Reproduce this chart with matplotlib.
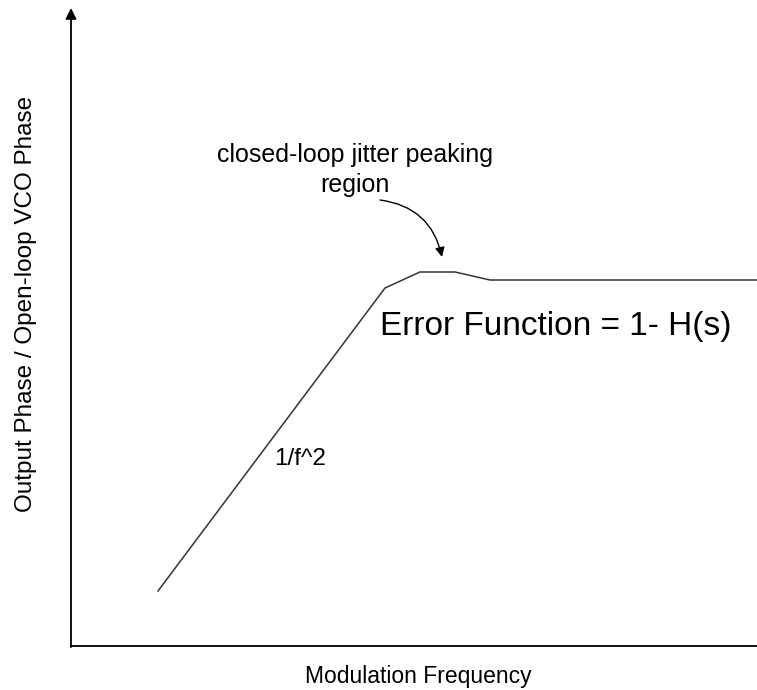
import matplotlib
matplotlib.use("Agg")
from matplotlib import pyplot as plt

# Response curve, in picture coordinates (x right, y down)
freq = [158, 385, 420, 455, 490, 757]
phase = [591, 288, 272, 272, 280, 280]

ylabel = 'Output Phase / Open-loop VCO Phase'
xlabel = 'Modulation Frequency'
note = 'closed-loop jitter peaking\nregion'
formula = 'Error Function = 1- H(s)'
slope = '1/f^2'

plt.rcParams['font.family'] = ['Liberation Sans', 'DejaVu Sans']

fig = plt.figure(figsize=(7.57, 6.90), dpi=100)
ax = fig.add_axes([0, 0, 1, 1])
ax.set_xlim(0, 757)
ax.set_ylim(690, 0)
ax.axis('off')

# axes drawn by hand: y axis with arrow, plain x axis
ax.plot([71, 757], [646, 646], color='black', lw=1.3)
ax.annotate('', xy=(71, 8), xytext=(71, 647),
            arrowprops=dict(arrowstyle='-|>', color='black', lw=1.3,
                            mutation_scale=16, shrinkA=0, shrinkB=0))

ax.plot(freq, phase, color='#333333', lw=1.1)

ax.text(26, 304, ylabel, rotation=90, ha='center', va='center', fontsize=17.5)
ax.text(418, 677, xlabel, ha='center', va='center', fontsize=16.5)
ax.text(355, 170, note, ha='center', va='center', fontsize=18, linespacing=1.3)
ax.text(556, 327, formula, ha='center', va='center', fontsize=24)
ax.text(300, 459, slope, ha='center', va='center', fontsize=17.5)

ax.annotate('', xy=(442, 257), xytext=(380, 200),
            arrowprops=dict(arrowstyle='-|>', color='black', lw=1,
                            mutation_scale=14, shrinkA=0, shrinkB=0,
                            connectionstyle='arc3,rad=-0.35'))

fig.savefig('out.png')
